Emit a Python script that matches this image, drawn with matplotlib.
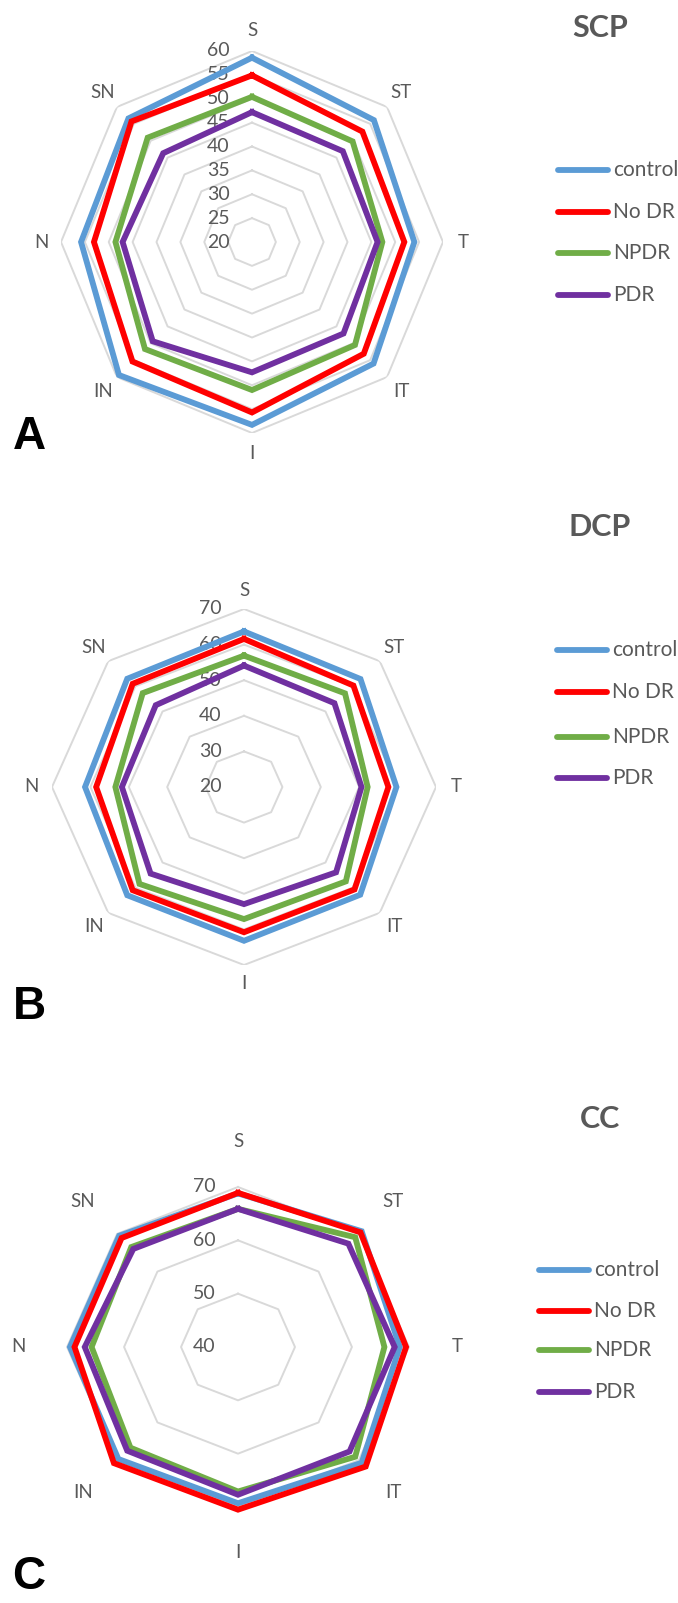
import numpy as np
import matplotlib
matplotlib.use("Agg")
import matplotlib.pyplot as plt
from matplotlib.lines import Line2D

plt.rcParams['font.family'] = ['Lato', 'DejaVu Sans']

# sectors, clockwise from the top
categories = ['S', 'ST', 'T', 'IT', 'I', 'IN', 'N', 'SN']
groups = ['control', 'No DR', 'NPDR', 'PDR']
colors = ['#5B9BD5', '#FF0000', '#70AD47', '#7030A0']

# SCP
scp_control = [58.6, 56.1, 54.0, 56.0, 58.3, 59.4, 55.8, 56.6]
scp_nodr = [54.9, 52.7, 51.9, 53.1, 55.7, 55.4, 53.1, 55.7]
scp_npdr = [50.4, 49.8, 47.3, 50.5, 51.0, 51.7, 48.6, 50.9]
scp_pdr = [47.2, 46.9, 46.3, 47.1, 47.3, 49.4, 47.1, 46.3]
scp_ticks = [20, 25, 30, 35, 40, 45, 50, 55, 60]

# DCP
dcp_control = [63.7, 62.9, 59.7, 62.8, 63.2, 63.0, 61.4, 63.0]
dcp_nodr = [61.6, 60.3, 57.6, 60.7, 60.8, 61.0, 58.5, 61.0]
dcp_npdr = [56.9, 57.2, 52.2, 57.5, 57.1, 58.5, 53.5, 57.3]
dcp_pdr = [54.1, 53.3, 50.6, 53.9, 52.9, 54.4, 51.8, 52.5]
dcp_ticks = [20, 30, 40, 50, 60, 70]

# CC
cc_control = [68.8, 70.7, 68.4, 70.7, 69.3, 69.7, 69.5, 69.5]
cc_nodr = [68.9, 70.4, 69.5, 71.7, 70.5, 70.8, 68.7, 68.9]
cc_npdr = [65.9, 69.1, 65.7, 69.1, 67.1, 66.7, 65.7, 66.5]
cc_pdr = [65.9, 67.4, 67.5, 67.7, 67.7, 67.5, 66.9, 66.0]
cc_ticks = [40, 50, 60, 70]

W, H = 678, 1603
fig = plt.figure(figsize=(W / 100, H / 100), dpi=100)
grey = '#595959'
grid_c = '#D9D9D9'

angles = np.linspace(0, 2 * np.pi, len(categories), endpoint=False)
closed = np.append(angles, angles[0])


def radar(cx, cy, rx, ry, rmin, rmax, ticks, series, label_r):
    ax = fig.add_axes([(cx - rx) / W, (H - cy - ry) / H, 2 * rx / W, 2 * ry / H],
                      projection='polar')
    ax.set_aspect('auto')
    ax.set_theta_offset(np.pi / 2)
    ax.set_theta_direction(-1)
    ax.set_ylim(rmin, rmax)
    ax.grid(False)
    ax.spines['polar'].set_visible(False)
    ax.set_xticks([])
    ax.set_yticks([])
    ax.patch.set_alpha(0)
    for t in ticks[1:]:
        ax.plot(closed, [t] * len(closed), color=grid_c, lw=1.4, zorder=1)
    for vals, c in zip(series, colors):
        ax.plot(closed, vals + vals[:1], color=c, lw=4.2, zorder=3,
                solid_joinstyle='miter', clip_on=False)
    for t in ticks:
        ax.annotate(str(t), xy=(0, t), xytext=(-16, 0), textcoords='offset points',
                    ha='right', va='center', fontsize=14, color=grey, zorder=2)
    for a, name in zip(angles, categories):
        ax.text(a, label_r, name, ha='center', va='center', fontsize=13.5,
                color=grey, clip_on=False)
    return ax


def legend(x0, title, title_y, ys):
    fig.text(600 / W, 1 - title_y / H, title, ha='center', va='center',
             fontsize=22, fontweight='bold', color=grey)
    for y, c, g in zip(ys, colors, groups):
        fig.add_artist(Line2D([x0 / W, (x0 + 50) / W], [1 - y / H, 1 - y / H],
                              color=c, lw=4.2, solid_capstyle='round'))
        fig.text((x0 + 55) / W, 1 - y / H, g, ha='left', va='center',
                 fontsize=15, color=grey)


radar(252, 242, 191, 191, 20, 60, scp_ticks,
      [scp_control, scp_nodr, scp_npdr, scp_pdr], 64.2)
legend(558, 'SCP', 28, [170, 212, 253, 295])
fig.text(29 / W, 1 - 437 / H, 'A', ha='center', va='center', fontsize=33,
         fontweight='bold', color='black', family='Liberation Sans')

radar(244, 787, 192, 178, 20, 70, dcp_ticks,
      [dcp_control, dcp_nodr, dcp_npdr, dcp_pdr], 75.3)
legend(557, 'DCP', 527, [650, 692, 737, 778])
fig.text(29 / W, 1 - 1007 / H, 'B', ha='center', va='center', fontsize=33,
         fontweight='bold', color='black', family='Liberation Sans')

radar(238, 1347, 188, 176, 40, 73, cc_ticks,
      [cc_control, cc_nodr, cc_npdr, cc_pdr], 78.5)
legend(539, 'CC', 1119, [1270, 1311, 1350, 1392])
fig.text(29 / W, 1 - 1577 / H, 'C', ha='center', va='center', fontsize=33,
         fontweight='bold', color='black', family='Liberation Sans')

fig.savefig('out.png', dpi=100, facecolor='white')
